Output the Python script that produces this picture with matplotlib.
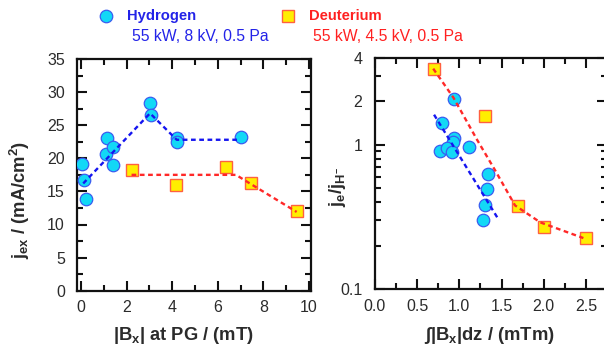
import numpy as np
import matplotlib
matplotlib.use("Agg")
import matplotlib.pyplot as plt
from matplotlib.lines import Line2D
from matplotlib.ticker import MultipleLocator, FixedLocator, NullFormatter

plt.rcParams['font.family'] = ['Liberation Sans', 'DejaVu Sans']
plt.rcParams['mathtext.fontset'] = 'custom'
plt.rcParams['mathtext.rm'] = 'Liberation Sans:bold'
plt.rcParams['mathtext.it'] = 'Liberation Sans:italic'
plt.rcParams['mathtext.bf'] = 'Liberation Sans:bold'

# left panel: extracted current density vs |Bx| at the plasma grid
h_bx = [0.03, 0.13, 0.22, 1.13, 1.10, 1.42, 1.42, 3.03, 3.06, 4.20, 4.20, 7.03]
h_jex = [19.2, 16.7, 13.9, 23.0, 20.6, 21.7, 19.0, 28.3, 26.5, 23.0, 22.4, 23.2]
h_fit_bx = [0.1, 3.03, 4.2, 6.95]
h_fit_jex = [16.2, 26.8, 22.8, 22.8]

d_bx = [2.25, 4.15, 6.36, 7.44, 9.46]
d_jex = [18.3, 16.0, 18.7, 16.2, 12.0]
d_fit_bx = [2.22, 6.8, 7.41, 9.46]
d_fit_jex = [17.5, 17.5, 16.2, 11.9]

# right panel: electron to ion ratio vs integrated |Bx|
h_int = [0.94, 0.79, 0.94, 0.92, 0.77, 0.85, 0.91, 1.11, 1.34, 1.33, 1.30, 1.28]
h_ratio = [2.08, 1.40, 1.11, 1.05, 0.91, 0.94, 0.885, 0.97, 0.63, 0.49, 0.38, 0.30]
h_fit_int = [0.70, 1.47]
h_fit_ratio = [1.61, 0.30]

d_int = [0.70, 1.30, 1.70, 2.00, 2.50]
d_ratio = [3.31, 1.57, 0.374, 0.269, 0.228]
d_fit_int = [0.69, 0.93, 1.21, 1.42, 1.66, 1.96, 2.47]
d_fit_ratio = [3.35, 2.11, 1.08, 0.67, 0.38, 0.29, 0.226]

txt = '#2b2b2b'
blue_txt = '#2323e8'
red_txt = '#ff2020'
cyan = '#12d8f6'
cyan_edge = '#3a5cf0'
yellow = '#ffee00'
sq_edge = '#ff6040'
blue_line = '#1515f0'
red_line = '#ff2828'

W, H = 604, 351
fig = plt.figure(figsize=(W / 100, H / 100), dpi=100)


def px_axes(x0, y0, x1, y1):
    return fig.add_axes([x0 / W, 1 - y1 / H, (x1 - x0) / W, (y1 - y0) / H])


def style(ax):
    for s in ax.spines.values():
        s.set_linewidth(1.6)
        s.set_color('#111111')
    ax.tick_params(which='both', direction='in', top=True, right=True,
                   width=1.5, colors='#111111', labelcolor=txt, labelsize=11.5)
    ax.tick_params(which='major', length=7.5)
    ax.tick_params(which='minor', length=4)
    ax.tick_params(axis='x', pad=7)
    ax.tick_params(axis='y', pad=9)


circ = dict(marker='o', ms=9, mfc=cyan, mec=cyan_edge, mew=0.9, ls='none', zorder=3)
sq = dict(marker='s', ms=8, mfc=yellow, mec=sq_edge, mew=1.0, ls='none', zorder=3)
dash = dict(lw=1.7, dashes=(2.0, 1.5), zorder=4)

# left
ax1 = px_axes(77.3, 59, 311, 290.7)
ax1.plot(h_bx, h_jex, **circ)
ax1.plot(d_bx, d_jex, **sq)
ax1.plot(h_fit_bx, h_fit_jex, color=blue_line, **dash)
ax1.plot(d_fit_bx, d_fit_jex, color=red_line, **dash)
ax1.set_xlim(-0.16, 10.09)
ax1.set_ylim(0, 35)
ax1.xaxis.set_major_locator(FixedLocator([0, 2, 4, 6, 8, 10]))
ax1.xaxis.set_minor_locator(MultipleLocator(1))
ax1.yaxis.set_major_locator(MultipleLocator(5))
ax1.yaxis.set_minor_locator(MultipleLocator(2.5))
style(ax1)

# right
ax2 = px_axes(375, 57.5, 607, 289.3)
ax2.plot(h_int, h_ratio, **circ)
ax2.plot(d_int, d_ratio, **sq)
ax2.plot(h_fit_int, h_fit_ratio, color=blue_line, **dash)
ax2.plot(d_fit_int, d_fit_ratio, color=red_line, **dash)
ax2.set_yscale('log')
ax2.set_xlim(0, 2.75)
ax2.set_ylim(0.1, 4)
ax2.xaxis.set_major_locator(FixedLocator([0.0, 0.5, 1.0, 1.5, 2.0, 2.5]))
ax2.xaxis.set_minor_locator(MultipleLocator(0.25))
ax2.set_xticklabels(['0.0', '0.5', '1.0', '1.5', '2.0', '2.5'])
ax2.yaxis.set_major_locator(FixedLocator([0.1, 1, 2, 4]))
ax2.yaxis.set_minor_locator(FixedLocator([0.2, 0.3, 0.4, 0.5, 0.6, 0.7, 0.8, 0.9, 3]))
ax2.yaxis.set_minor_formatter(NullFormatter())
ax2.set_yticklabels(['0.1', '1', '2', '4'])
style(ax2)

# axis labels
lab = dict(ha='center', va='center', fontsize=13.2, fontweight='bold', color=txt)
fig.text(183 / W, 1 - 336 / H, r'|B$_{\mathrm{x}}$| at PG / (mT)', **lab)
fig.text(489 / W, 1 - 336 / H, r'∫|B$_{\mathrm{x}}$|dz / (mTm)', **lab)
fig.text(20 / W, 1 - 200 / H, r'j$_{\mathrm{ex}}$ / (mA/cm$^{\mathrm{2}}$)', rotation=90, **lab)
fig.text(338 / W, 1 - 187 / H, r'j$_{\mathrm{e}}$/j$_{\mathrm{H}^{-}}$', rotation=90, **lab)

# legend
fig.add_artist(Line2D([106 / W], [1 - 15.7 / H], transform=fig.transFigure, **circ))
fig.add_artist(Line2D([288 / W], [1 - 15.7 / H], transform=fig.transFigure, **sq))
fig.text(127.5 / W, 1 - 15.7 / H, 'Hydrogen', ha='left', va='center', fontsize=10.6,
         fontweight='bold', color=blue_txt)
fig.text(131.5 / W, 1 - 36.7 / H, '55 kW, 8 kV, 0.5 Pa', ha='left', va='center', fontsize=11.3,
         color=blue_txt)
fig.text(309 / W, 1 - 15.7 / H, 'Deuterium', ha='left', va='center', fontsize=10.6,
         fontweight='bold', color=red_txt)
fig.text(313 / W, 1 - 36.7 / H, '55 kW, 4.5 kV, 0.5 Pa', ha='left', va='center', fontsize=11.3,
         color=red_txt)

fig.savefig('out.png', dpi=100)
